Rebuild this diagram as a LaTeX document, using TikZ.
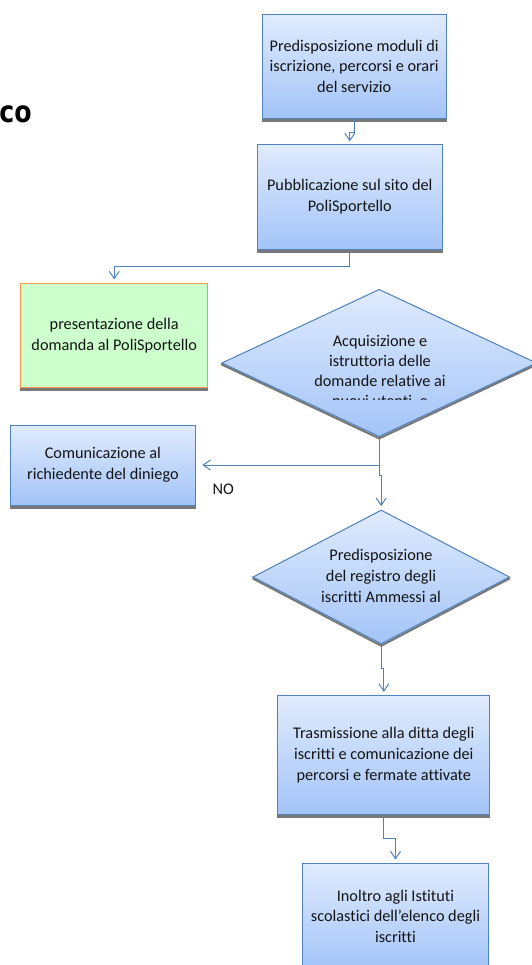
\documentclass[tikz,border=0pt]{standalone}
\usepackage{fontspec}
\setmainfont{Carlito}[Ligatures={NoCommon}]
\newfontfamily\cofont{DejaVu Sans}
\usetikzlibrary{shapes.geometric,arrows.meta}
\pgfdeclarelayer{bg}
\pgfsetlayers{bg,main}
\definecolor{bordblue}{RGB}{79,129,189}
\definecolor{topblue}{RGB}{224,235,253}
\definecolor{botblue}{RGB}{163,196,248}
\definecolor{greenfill}{RGB}{204,255,204}
\definecolor{orangeb}{RGB}{247,150,70}
\definecolor{txt}{RGB}{20,20,20}
\definecolor{shadowc}{RGB}{120,120,120}
\tikzset{
  base/.style={line width=0.75pt, inner sep=0pt, align=center, text=txt,
    font=\fontsize{12.2}{15.6}\selectfont},
  proc/.style={base, rectangle, draw=bordblue, top color=topblue, bottom color=botblue},
  inbox/.style={base, rectangle, draw=orangeb, fill=greenfill},
  decis/.style={base, diamond, draw=bordblue, top color=topblue, bottom color=botblue},
  dtext/.style={inner sep=0pt, align=center, text=txt, font=\fontsize{12.2}{15}\selectfont},
  conn/.style={draw=bordblue, line width=0.75pt, -{Straight Barb[length=5.5pt,width=7.5pt]}, shorten >=2.3pt},
  shad/.style={fill=shadowc},
}
\begin{document}
\begin{tikzpicture}[x=0.75pt,y=-0.75pt]
\useasboundingbox (0,0) rectangle (532,965);
\node[anchor=base west, inner sep=0pt, font=\cofont\bfseries\fontsize{22.5}{26}\selectfont] (co) at (-0.8,122) {\scalebox{0.84}[1]{co}};
\node[proc, minimum width=137.8pt, minimum height=78pt] (b1) at (354.2,66.3) {Predisposizione moduli di\\iscrizione, percorsi e orari\\del servizio};
\node[proc, minimum width=138.75pt, minimum height=78.5pt] (b2) at (349.8,196.7) {Pubblicazione sul sito del\\PoliSportello};
\node[inbox, minimum width=140.25pt, minimum height=78.3pt] (g) at (114.2,335.5) {presentazione della\\domanda al PoliSportello};
\node[decis, minimum width=236.25pt, minimum height=110.5pt] (d1) at (379.2,363) {};
\begin{scope}
  \clip (215,285) rectangle (532,399.5);
  \node[dtext] (t1) at (380,371.7) {Acquisizione e\\istruttoria delle\\domande relative ai\\nuovi utenti, e};
\end{scope}
\node[proc, minimum width=139.3pt, minimum height=60pt] (c) at (102.9,465) {Comunicazione al\\richiedente del diniego};
\node[dtext, font=\fontsize{12.2}{15}\selectfont] (no) at (223.3,489.3) {NO};
\node[decis, minimum width=192.5pt, minimum height=100.5pt] (d2) at (381.2,577) {};
\node[dtext, font=\fontsize{12.2}{15.8}\selectfont] (t2) at (381,575.7) {Predisposizione\\del registro degli\\iscritti Ammessi al};
\node[proc, minimum width=159.2pt, minimum height=88.7pt] (b4) at (383.8,754.9) {Trasmissione alla ditta degli\\iscritti e comunicazione dei\\percorsi e fermate attivate};
\node[proc, minimum width=139.2pt, minimum height=79.3pt] (b5) at (395.5,916.2) {Inoltro agli Istituti\\scolastici dell'elenco degli\\iscritti};
\begin{pgfonlayer}{bg}
  \foreach \n in {b1,b2,g,c,b4,b5}{
    \fill[shad] (\n.south west) rectangle ([yshift=-2.4pt]\n.south east);
  }
  \foreach \n in {d1,d2}{
    \fill[shad] (\n.west) -- (\n.south) -- (\n.east) -- ([yshift=-1.8pt]\n.east) -- ([yshift=-1.8pt]\n.south) -- ([yshift=-1.8pt]\n.west) -- cycle;
  }
\end{pgfonlayer}
\draw[conn, shorten >=1.9pt] (b1.south) -- ++(0,14) -| (b2.north);
\draw[conn, shorten >=2.5pt] (b2.south) -- ++(0,17) -| (g.north);
\draw[conn, shorten >=4.5pt] (d1.south) |- (c.east);
\draw[conn, shorten >=2.5pt] (d1.south) -- ++(0,38.3) -| (d2.north);
\draw[conn, shorten >=2.5pt] (d2.south) -- ++(0,24.3) -| (b4.north);
\draw[conn, shorten >=2.5pt] (b4.south) -- ++(0,24.3) -| (b5.north);
\end{tikzpicture}
\end{document}
